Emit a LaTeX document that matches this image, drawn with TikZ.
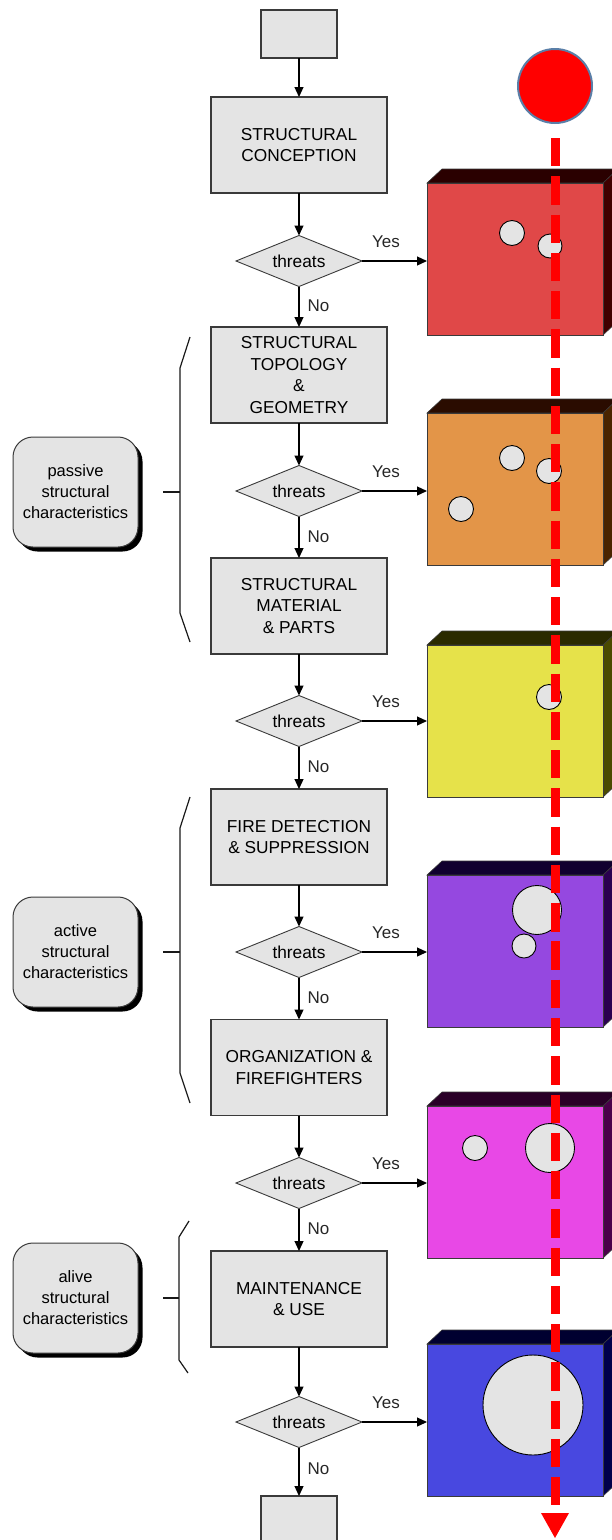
\documentclass[tikz,border=0pt]{standalone}
\usepackage{fontspec}
\setmainfont{Liberation Sans}
\usetikzlibrary{arrows.meta,shapes.geometric,shadows}

\definecolor{boxgray}{HTML}{E4E4E4}
\definecolor{edgegray}{HTML}{3A3A3A}
\definecolor{ballrim}{HTML}{5A7FA8}
% wall colours: front face / top face / side face
\definecolor{frA}{HTML}{E04848}\definecolor{tpA}{HTML}{2A0000}\definecolor{sdA}{HTML}{400000}
\definecolor{frB}{HTML}{E39548}\definecolor{tpB}{HTML}{2A0C00}\definecolor{sdB}{HTML}{4A2400}
\definecolor{frC}{HTML}{E6E24A}\definecolor{tpC}{HTML}{2A2A00}\definecolor{sdC}{HTML}{4A4A00}
\definecolor{frD}{HTML}{9548E0}\definecolor{tpD}{HTML}{10002E}\definecolor{sdD}{HTML}{2A0050}
\definecolor{frE}{HTML}{E848E6}\definecolor{tpE}{HTML}{2A0028}\definecolor{sdE}{HTML}{4A004A}
\definecolor{frF}{HTML}{4848E0}\definecolor{tpF}{HTML}{000030}\definecolor{sdF}{HTML}{00004A}

\begin{document}
\begin{tikzpicture}[x=1pt,y=-1pt,
  flowbox/.style={draw=edgegray, line width=1.1pt, fill=boxgray, minimum width=176,
    minimum height=96, inner sep=0pt, outer sep=0pt, align=center,
    font=\fontsize{17.3}{21.7}\selectfont},
  endbox/.style={draw=edgegray, line width=1.1pt, fill=boxgray, minimum width=76,
    minimum height=48, inner sep=0pt, outer sep=0pt},
  decision/.style={diamond, aspect=2.5, draw=edgegray, line width=0.9pt, fill=boxgray,
    minimum width=126, minimum height=51, inner sep=0pt, outer sep=0pt,
    font=\fontsize{17.3}{20}\selectfont},
  groupbox/.style={draw=edgegray, line width=1pt, fill=boxgray, rounded corners=20pt,
    minimum width=125, minimum height=110, inner sep=0pt, align=center,
    font=\fontsize{16.5}{21}\selectfont,
    drop shadow={shadow xshift=4.5pt, shadow yshift=-4.5pt, fill=black, opacity=1}},
  blockface/.style={draw=edgegray, line width=0.9pt, minimum width=176, minimum height=152,
    inner sep=0pt, outer sep=0pt},
  flow/.style={draw=black, line width=1.2pt, -{Triangle[length=10pt,width=9pt]}},
  lbl/.style={inner sep=0pt, font=\fontsize{17}{20}\selectfont, text=black!85},
  brace/.style={draw=black!90, line width=1.2pt},
  hole/.style={fill=boxgray, draw=black, line width=0.9pt},
  redpath/.style={draw=red, line width=9pt, dash pattern=on 28.3pt off 9.96pt}
]
\useasboundingbox (0,0) rectangle (611,1540);

% ---- flow chart column ----
\node[endbox] (b0) at (299,34) {};
\node[flowbox] (b1) at (299,145) {STRUCTURAL\\CONCEPTION};
\node[decision] (dia1) at (299,261) {threats};
\node[flowbox] (b2) at (299,375) {STRUCTURAL\\TOPOLOGY\\\&\\GEOMETRY};
\node[decision] (dia2) at (299,491) {threats};
\node[flowbox] (b3) at (299,606) {STRUCTURAL\\MATERIAL\\\& PARTS};
\node[decision] (dia3) at (299,721) {threats};
\node[flowbox] (b4) at (299,837) {FIRE DETECTION\\\& SUPPRESSION};
\node[decision] (dia4) at (299,952) {threats};
\node[flowbox] (b5) at (299,1067.5) {ORGANIZATION \&\\FIREFIGHTERS};
\node[decision] (dia5) at (299,1183) {threats};
\node[flowbox] (b6) at (299,1299) {MAINTENANCE\\\& USE};
\node[decision] (dia6) at (299,1422) {threats};
\node[endbox] (b7) at (299,1520) {};

\draw[flow] (b0) -- (b1);
\draw[flow] (b1) -- (dia1);
\draw[flow] (b2) -- (dia2);
\draw[flow] (b3) -- (dia3);
\draw[flow] (b4) -- (dia4);
\draw[flow] (b5) -- (dia5);
\draw[flow] (b6) -- (dia6);
\draw[flow] (dia1) -- node[lbl, anchor=west, xshift=8pt, yshift=1pt] {No} (b2);
\draw[flow] (dia2) -- node[lbl, anchor=west, xshift=8pt, yshift=1pt] {No} (b3);
\draw[flow] (dia3) -- node[lbl, anchor=west, xshift=8pt, yshift=1pt] {No} (b4);
\draw[flow] (dia4) -- node[lbl, anchor=west, xshift=8pt, yshift=1pt] {No} (b5);
\draw[flow] (dia5) -- node[lbl, anchor=west, xshift=8pt, yshift=1pt] {No} (b6);
\draw[flow] (dia6) -- node[lbl, anchor=west, xshift=8pt, yshift=3pt] {No} (b7);

% ---- damaged walls ----
\foreach \t/\fc/\tc/\sc [count=\i] in {183/frA/tpA/sdA, 413/frB/tpB/sdB, 645/frC/tpC/sdC,
                                        875/frD/tpD/sdD, 1106/frE/tpE/sdE, 1344/frF/tpF/sdF} {
  \filldraw[fill=\tc, draw=edgegray, line width=0.6pt]
    (427,\t) -- (442,\t-14) -- (618,\t-14) -- (603,\t) -- cycle;
  \filldraw[fill=\sc, draw=edgegray, line width=0.6pt]
    (603,\t) -- (618,\t-14) -- (618,\t+138) -- (603,\t+152) -- cycle;
  \node[blockface, fill=\fc] (blk\i) at (515,\t+76) {};
  \draw[flow] (dia\i.east) -- (dia\i.east -| blk\i.west);
  \node[lbl] (yes\i) at ([xshift=24pt, yshift=19pt]dia\i.east) {Yes};
}

% holes in the walls
\draw[hole] (512,233) circle (12.5);
\draw[hole] (550,246) circle (12);
\draw[hole] (512,458) circle (12.5);
\draw[hole] (549,471) circle (12.5);
\draw[hole] (461,509) circle (12.5);
\draw[hole] (549,697) circle (12.5);
\draw[hole] (537,910) circle (24.5);
\draw[hole] (524,946) circle (12);
\draw[hole] (475,1148) circle (12.5);
\draw[hole] (550,1148) circle (24.5);
\draw[hole] (533,1405) circle (50);

% ---- characteristic groups ----
\node[groupbox] (g1) at (75.5,492) {passive\\structural\\characteristics};
\node[groupbox] (g2) at (75.5,952) {active\\structural\\characteristics};
\node[groupbox] (g3) at (75.5,1298) {alive\\structural\\characteristics};

\coordinate (k1) at (180,492);
\coordinate (k2) at (180,952);
\coordinate (k3) at (179,1298);
\draw[brace] (190,337) -- (180,368) -- (180,613) -- (190,642);
\draw[brace] (163,492) -- (k1);
\draw[brace] (190,797) -- (180,828) -- (180,1073) -- (190,1103);
\draw[brace] (163,952) -- (k2);
\draw[brace] (189,1221) -- (179,1237) -- (179,1360) -- (188,1373);
\draw[brace] (163,1298) -- (k3);

% ---- threat path ----
\node[circle, fill=red, draw=ballrim, line width=2pt, minimum size=74, inner sep=0pt]
  (ball) at (555,86) {};
\coordinate (tipbase) at (555,1505);
\draw[redpath] ([yshift=-14pt]ball.south) -- (tipbase);
\fill[red] (541,1513) -- (569,1513) -- (555,1538) -- cycle;
\end{tikzpicture}
\end{document}
